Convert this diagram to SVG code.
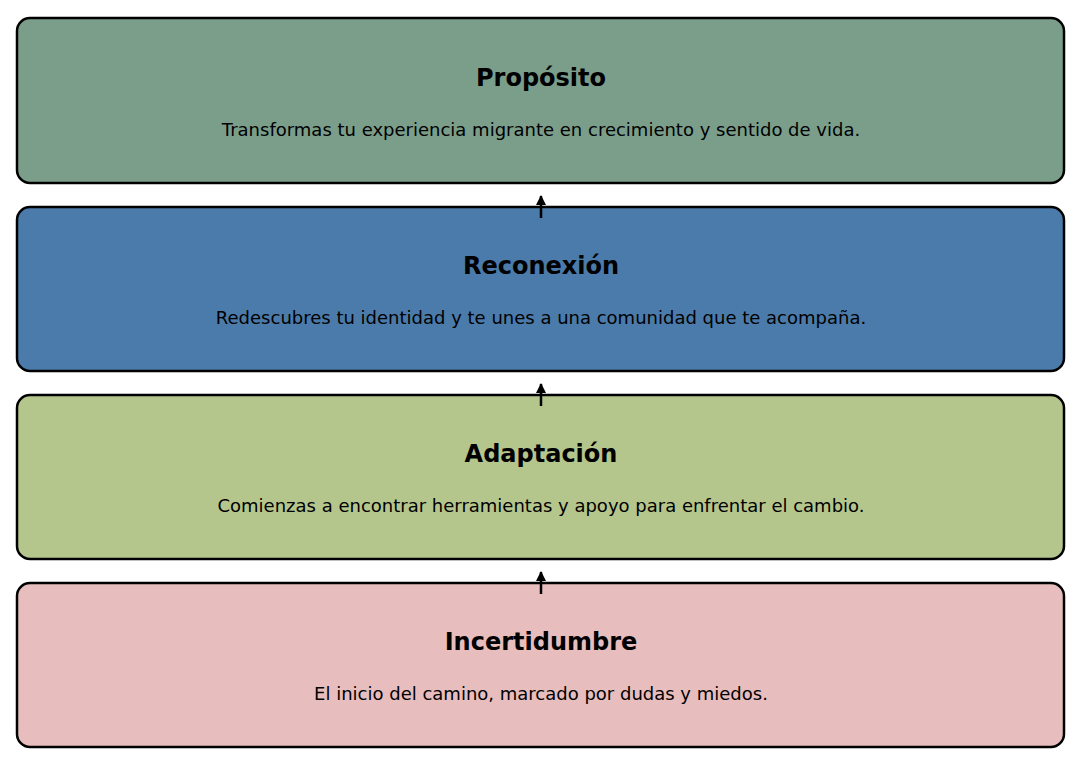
<svg xmlns="http://www.w3.org/2000/svg" width="1080" height="759" viewBox="0 0 1080 759">
<defs>
<style>
.box{stroke:#000;stroke-width:2.5}
.t{font-family:"DejaVu Sans",sans-serif;font-weight:bold;font-size:24px;text-anchor:middle;fill:#000}
.d{font-family:"DejaVu Sans",sans-serif;font-size:18px;text-anchor:middle;fill:#000}
.c{stroke:#000;stroke-width:2.5;fill:none}
</style>
<marker id="ah" viewBox="0 0 10 10" refX="9" refY="5" markerWidth="4" markerHeight="4" orient="auto" markerUnits="strokeWidth">
<path d="M0,0 L10,5 L0,10 z" fill="#000"/>
</marker>
</defs>
<rect width="1080" height="759" fill="#fff"/>
<g id="proposito">
<rect class="box" x="17" y="18" width="1047" height="165" rx="13" fill="#7b9e8b"/>
<text class="t" x="541" y="86">Propósito</text>
<text class="d" x="541" y="136">Transformas tu experiencia migrante en crecimiento y sentido de vida.</text>
</g>
<g id="reconexion">
<rect class="box" x="17" y="207" width="1047" height="164" rx="13" fill="#4b7bab"/>
<text class="t" x="541" y="274">Reconexión</text>
<text class="d" x="541" y="324">Redescubres tu identidad y te unes a una comunidad que te acompaña.</text>
</g>
<g id="adaptacion">
<rect class="box" x="17" y="395" width="1047" height="164" rx="13" fill="#b5c68c"/>
<text class="t" x="541" y="462">Adaptación</text>
<text class="d" x="541" y="512">Comienzas a encontrar herramientas y apoyo para enfrentar el cambio.</text>
</g>
<g id="incertidumbre">
<rect class="box" x="17" y="583" width="1047" height="164" rx="13" fill="#e8bdbd"/>
<text class="t" x="541" y="650">Incertidumbre</text>
<text class="d" x="541" y="700">El inicio del camino, marcado por dudas y miedos.</text>
</g>
<g id="connectors">
<line class="c" x1="541" y1="218" x2="541" y2="196" marker-end="url(#ah)"/>
<line class="c" x1="541" y1="406" x2="541" y2="384" marker-end="url(#ah)"/>
<line class="c" x1="541" y1="594" x2="541" y2="572" marker-end="url(#ah)"/>
</g>
</svg>
